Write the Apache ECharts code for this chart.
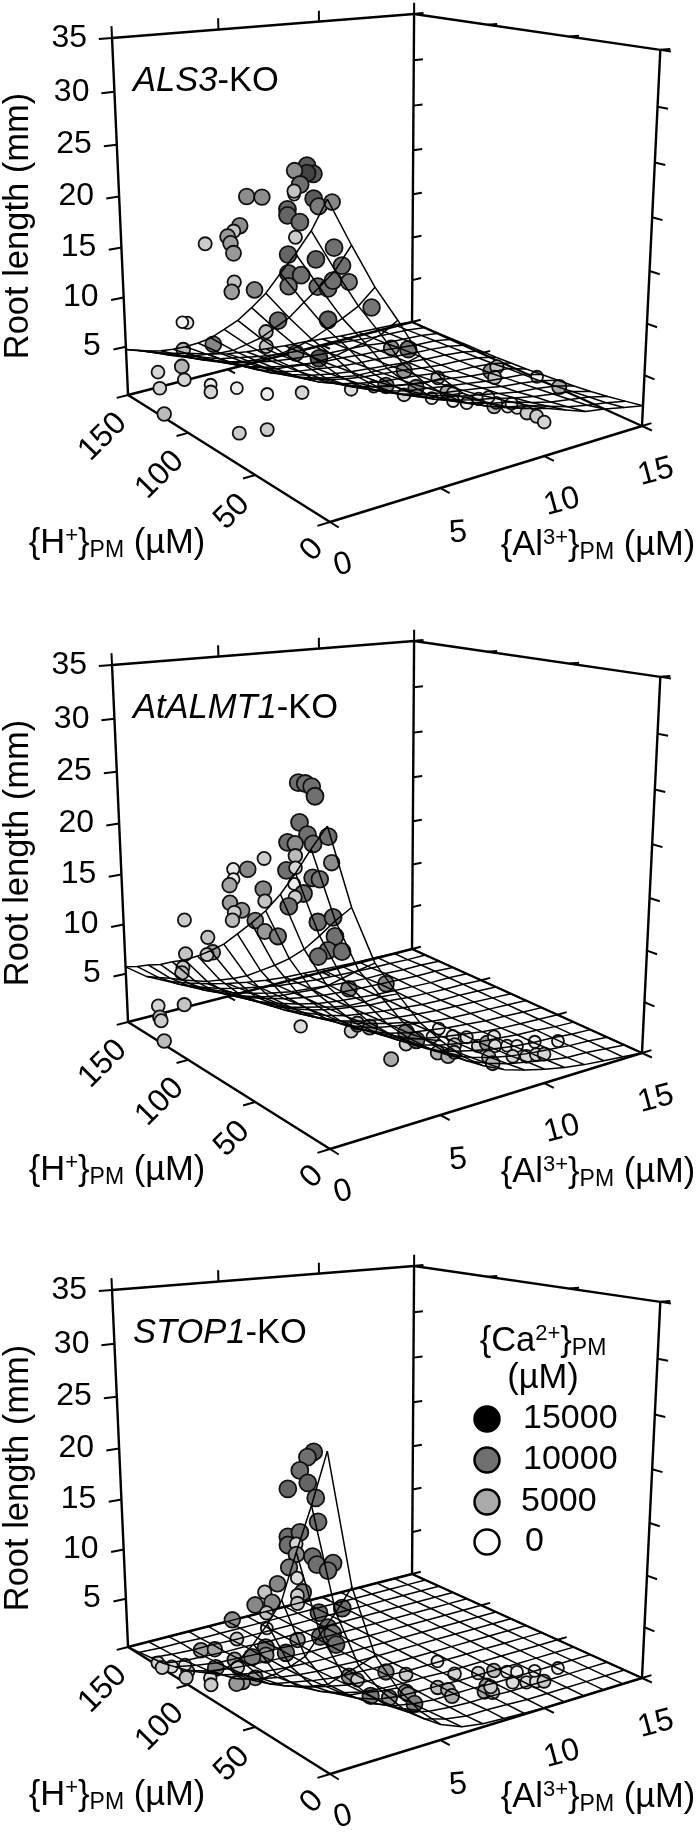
<!DOCTYPE html>
<html><head><meta charset="utf-8">
<style>html,body{margin:0;padding:0;background:#fff}#c{width:698px;height:1834px}</style>
<script src="https://cdn.jsdelivr.net/npm/echarts@6/dist/echarts.min.js"></script>
</head><body><div id="c"></div>
<script>
// ---------- axis tick values ----------
const lengthTicks=[5,10,15,20,25,30,35];
const hTicks=[0,50,100,150];
const alTicks=[0,5,10,15];
const legendCa=[15000,10000,5000,0];
const meshH=[0,10,20,30,40,50,60,70,80,90,100,110,120,130,140,150];
const meshAl=[0,1,2,3,4,5,6,7,8,9,10,11,12,13,14,15];
// ---------- measurements: [H+ uM, Al3+ uM, root length mm, Ca2+ uM] ----------
const als3Points=[
[27,1,27.5,11000],[23,1,27,11000],[27,1,26.9,12000],[35,1,26.8,7500],[31.5,1,25.8,10000],[35.5,1,24.8,500],[35.5,1,25.1,3500],[23,1,25,11000],[20,1,24.5,9000],[11.6,1,25.2,8000],
[40,1,23.4,10500],[40,1,22.9,10500],[32,1,22.7,10000],[35,1,21.3,3000],[40,1,19.6,10500],[10.6,1,21.6,10000],[22,1,20.1,10500],[5.8,1,20.4,10000],[40,1,18,10500],[31.6,1,18.3,10000],
[40,1,16.9,9500],[21,1,17.9,10000],[14.5,1,18.1,10000],[11.4,1,18.9,10000],[1.6,1,19.3,8500],[20,3.3,15.3,9500],[14.7,1,15.5,10500],[47.5,1,13.5,10000],[56,1,12,4000],[56,1,10.7,3500],
[35.8,1,11.4,8000],[20.7,1,11.9,11000],[95,1,8.4,8000],[119,1,6.3,4000],[115,1,9.2,1500],[119,1,9,500],[63.5,1,15.3,8000],[78,1,15.2,3500],[80,1,14.2,6000],[99,1,17.6,3000],
[73,1,20.5,7500],[77.5,1,19.8,3500],[82,1,19.1,6500],[80,1,18.6,6000],[78,1,17.8,6500],[67.6,1,23.3,7500],[57,1,23.7,7500],[20,4.2,11.4,6500],[141,1,2.5,2500],[120.7,1,4.5,4500],
[119,1,3.3,2500],[140,1,0.9,2500],[121,0.1,0.2,4000],[98,1,4.3,1000],[98,1,3.6,2500],[78,1,5.4,1000],[56,1,6.4,1000],[32,1,8.2,2500],[77,1,1.2,3000],[56.5,1,3.1,3000],
[60,5.2,4.4,2000],[60,6.3,4.1,500],[60,6.9,3.9,7500],[60,8,6.9,9500],[60,7.8,4.9,7000],[60,8.4,2.9,7500],[60,7.8,2.5,2500],[60,9.5,3.3,3000],[60,9.2,1.4,1000],[60,10,1.6,5000],
[60,10.3,1.3,2000],[60,10.3,0.5,1000],[40,9.4,2.3,1000],[40,10,2.4,2000],[40,10.6,4.8,7000],[40,10.9,5.1,3500],[40,10.8,4.1,3500],[40,10.8,1.2,4000],[40,10.9,1.5,1000],[40,10.5,2.3,1000],
[40,11.5,0.8,1000],[40,12,0.4,1500],[40,11.7,1,1000],[20,10.8,2.1,3000],[20,11.3,1.5,3000],[20,11.7,0.7,2500],[40,13,3,1000],[40,14.2,1.3,5000]];
const almt1Points=[
[32.5,1,28.1,10000],[28,1,28.2,10000],[24,1,28.1,10000],[22,1,27.4,10000],[32,1,24.9,10000],[27,1,24.1,10000],[23.5,1,23.5,10000],[14,1,24.5,10000],[40,1,22.9,10000],[35,1,23,7500],
[35,1,22,4000],[12,1,22.5,7500],[56,1,20.8,3000],[78,1,18.8,1500],[67.6,1,19.3,8000],[78,1,17.9,1000],[81,1,17.2,5500],[41,1,20.5,10000],[35,1,21,2500],[24,1,20.7,10000],
[19.5,1,20.8,9500],[36,1,19.6,1000],[30,1,19.1,10000],[35.5,1,18.5,3000],[39.8,1,17.5,10000],[57,1,18.1,8000],[56,1,17.1,3500],[81,1,15.6,6000],[72.5,1,15.4,7000],[78,1,14.9,3000],
[79.5,1,14.1,4000],[63,1,15,8000],[56.5,1,14.4,6500],[47.5,1,14.5,9000],[21,1,17.2,10000],[11.4,1,18.1,10000],[10.3,1,16.6,10000],[14.7,1,15.2,10000],[6,1,15.6,10000],[21,1,14.3,10000],
[116.5,1,12,3000],[98.5,1,11.4,3500],[95,1,10.2,6000],[99.5,1,9.7,3000],[116.5,1,8.7,3500],[119,1,7.2,3000],[120,1,6.6,4000],[141,1,1.8,2500],[119,1,3.5,3500],[140,1,0.7,4000],
[139,1,0.4,3000],[121,0.1,0.2,4000],[60,2.8,4.7,2000],[60,5.1,7.1,8000],[60,6.9,6.7,8000],[60,5.2,3,3000],[60,5.5,3.4,3000],[60,6.1,2.9,7000],[20,4.2,3.9,5000],[60,7.9,1.4,8000],
[40,6.4,2.6,3000],[40,6.9,2.7,9000],[40,7.7,2.6,1500],[40,8,3.2,1000],[40,8.7,2.1,1500],[40,9.4,1.6,1500],[40,8.8,1.2,3000],[20,6.4,3.3,4500],[20,6.9,2.7,4500],[20,7.2,2.9,3000],
[40,10,0.4,2500],[20,8.8,2.9,6000],[40,10.8,0.9,1500],[20,9.2,2.4,2000],[20,8.9,1.5,4000],[20,9.1,0.8,4500],[20,9.8,2.1,1000],[20,10.3,1.8,1000],[20,10.1,0.9,2500],[20,10.8,0.5,2500],
[20,11.3,0.4,2500],[20,11.7,0.2,2500],[20,11.2,1.7,1000],[20,12.4,1.1,1000],[60,5.5,3.6,3000]];
const stop1Points=[
[23,1,24.9,11000],[27,1,24.3,10000],[32,1,23,10000],[27,1,22.2,10500],[40,1,21.1,10500],[22,1,21.2,10000],[20.7,1,19.3,10000],[40.5,1,17,10000],[32.5,1,17.8,10000],[40.5,1,16.3,10000],
[35,1,16.7,2500],[35,1,15.8,7500],[40,1,14.4,9000],[24.5,1,16.2,10000],[21.7,1,15.7,10000],[11.5,1,16.4,10000],[14.7,1,15.6,10000],[34.7,1,13.8,2000],[48,1,12.5,8000],[57,1,11.2,3500],
[52,1,10.6,8000],[64,1,9.6,8000],[31,1,12.8,9000],[34.7,1,12.3,3000],[34.7,1,11.6,3500],[56,1,9.4,3500],[81,1,7.1,7500],[56,1,8,1000],[78,1,5.5,3000],[106,1,2.4,6000],
[95,1,3.3,5500],[20.7,1,11.7,10000],[6,1,13,10000],[15,1,10.8,10000],[20,1,9.7,10000],[12,1,10.5,9500],[10,1,9.7,10000],[35,1,8.4,6000],[43,1,6.7,9500],[57,1,6.2,9000],
[57,1,5.5,7000],[67,1,4.6,9000],[80,1,3.4,5500],[78,1,2.8,3000],[78,0,3.3,8500],[82.5,0,2,2000],[82,0,1.4,3000],[65,1,2.8,6000],[74.5,1,1.7,6500],[79,1,1.2,6500],
[100,0,1.3,3000],[101.5,0,0.6,3500],[102,0,1.8,1500],[113,0,0.8,2000],[124.5,0,0.3,2500],[121,0,0.1,3000],[60,5.1,1.1,7000],[60,5.5,0.5,3000],[60,6.9,0.5,7500],[40,4.7,1,9000],
[40,5.6,0.3,7000],[40,6.4,2.1,3000],[40,6.4,0.4,7000],[40,6.5,0.1,6000],[20,5.3,1.5,8500],[60,9.5,0.1,1000],[40,8.8,0.8,2500],[20,6.4,2.4,4000],[20,6.9,1.9,4500],[20,7.1,1.2,5000],
[40,10,0.2,2500],[40,10.8,0,4000],[20,9.8,2,1500],[20,10.3,1.7,1000],[20,8.8,1.2,6000],[20,8.7,0.7,5000],[20,9.1,0.4,3500],[20,9,1,3000],[20,10.1,0.8,2000],[20,10.8,0.4,2000],
[20,11.3,0.2,2000],[20,11.7,0,3000],[20,11.2,1.3,1000],[20,12.4,0.9,1000]];
// ---------- fitted surfaces: rows are H+, columns Al3+ ----------
const als3Surface=[
[26.2,22.3,18.6,15.5,12.1,9.7,7.9,6.6,5.6,5.0,4.5,3.8,3.1,2.8,2.4,2.0],
[23.3,19.8,16.5,13.7,10.7,8.6,7.0,5.8,5.0,4.4,4.0,3.4,2.8,2.4,2.1,1.7],
[21,17.9,14.9,12.4,9.7,7.8,6.3,5.3,4.5,4.0,3.6,3.0,2.5,2.2,1.9,1.4],
[18.9,16.1,13.4,11.2,8.7,7.0,5.7,4.7,4.1,3.6,3.2,2.7,2.3,2.0,1.7,1.15],
[16.7,14.2,11.9,9.9,7.7,6.2,5.0,4.2,3.6,3.2,2.8,2.4,2.0,1.8,1.5,0.95],
[14.9,12.7,10.6,8.8,6.9,5.5,4.5,3.7,3.2,2.8,2.5,2.2,1.8,1.6,1.3,0.8],
[13.2,11.2,9.4,7.8,6.1,4.9,4.0,3.3,2.8,2.5,2.2,1.9,1.6,1.4,1.2,0.65],
[11.8,10,8.4,7,5.4,4.4,3.5,3,2.5,2.2,2,1.7,1.4,1.2,1.1,0.5],
[10.4,8.8,7.4,6.1,4.8,3.8,3.1,2.6,2.2,2,1.8,1.5,1.2,1.1,0.9,0.4],
[9.3,7.9,6.6,5.5,4.3,3.4,2.8,2.3,2,1.8,1.6,1.3,1.1,1,0.8,0.3],
[8.3,7.1,5.9,4.9,3.8,3.1,2.5,2.1,1.8,1.6,1.4,1.2,1,0.9,0.7,0.25],
[7.4,6.3,5.3,4.4,3.4,2.7,2.2,1.9,1.6,1.4,1.3,1.1,0.9,0.8,0.6,0.2],
[6.6,5.6,4.7,3.9,3,2.4,2,1.7,1.4,1.3,1.1,1,0.8,0.6,0.5,0.15],
[5.9,5,4.2,3.5,2.7,2.2,1.8,1.5,1.3,1.1,1,0.9,0.6,0.5,0.4,0.1],
[5.3,4.5,3.8,3.1,2.4,2,1.6,1.3,1.1,1,0.9,0.7,0.5,0.4,0.3,0.05],
[4.7,4,3.3,2.8,2.2,1.7,1.4,1.2,1,0.9,0.7,0.5,0.4,0.3,0.2,0]];
const almt1Surface=[
[26.2,19.5,14.6,11.6,8.7,6.6,4.7,3.3,2.4,1.8,1.3,0.9,0.6,0.4,0.2,0],
[24,17.9,13.4,10.7,8,6,4.3,3,2.2,1.6,1.2,0.8,0.5,0.4,0.2,0],
[21.6,16.1,12.1,9.6,7.2,5.4,3.9,2.7,2,1.4,1,0.7,0.5,0.3,0.2,0],
[19.4,14.4,10.8,8.6,6.5,4.9,3.5,2.4,1.8,1.3,0.9,0.6,0.4,0.3,0.1,0],
[17.5,13,9.8,7.8,5.8,4.4,3.2,2.2,1.6,1.2,0.8,0.6,0.4,0.3,0.1,0],
[15.9,11.8,8.9,7.1,5.3,4,2.9,2,1.5,1.1,0.8,0.5,0.3,0.2,0.1,0],
[14.4,10.7,8,6.4,4.8,3.6,2.6,1.8,1.3,1,0.7,0.5,0.3,0.2,0.1,0],
[12.9,9.6,7.2,5.7,4.3,3.3,2.3,1.6,1.2,0.9,0.6,0.4,0.3,0.2,0.1,0],
[11.7,8.7,6.5,5.2,3.9,2.9,2.1,1.5,1.1,0.8,0.6,0.4,0.3,0.2,0.1,0],
[10.6,7.9,5.9,4.7,3.5,2.7,1.9,1.3,1,0.7,0.5,0.3,0.2,0.2,0.1,0],
[9.6,7.1,5.4,4.3,3.2,2.4,1.7,1.2,0.9,0.6,0.5,0.3,0.2,0.1,0.1,0],
[8.8,6.5,4.9,3.9,2.9,2.2,1.6,1.1,0.8,0.6,0.4,0.3,0.2,0.1,0.1,0],
[7.9,5.9,4.4,3.5,2.6,2,1.4,1,0.7,0.5,0.4,0.3,0.2,0.1,0.1,0],
[7.2,5.4,4,3.2,2.4,1.8,1.3,0.9,0.7,0.5,0.3,0.2,0.2,0.1,0.1,0],
[6.4,4.8,3.6,2.8,2.1,1.6,1.2,0.8,0.6,0.4,0.3,0.2,0.1,0.1,0,0],
[5.7,4.2,3.2,2.5,1.9,1.4,1,0.7,0.5,0.4,0.3,0.2,0.1,0.1,0,0]];
const stop1Surface=[
[26.2,15.1,9,5.7,3.2,1.4,0.6,0.3,0.2,0.1,0,0,0,0,0,0],
[21.5,12.4,7.4,4.7,2.6,1.1,0.5,0.2,0.2,0.1,0,0,0,0,0,0],
[17.2,9.9,5.9,3.8,2.1,0.9,0.4,0.2,0.1,0.1,0,0,0,0,0,0],
[12.6,7.3,4.3,2.8,1.5,0.7,0.3,0.1,0.1,0.1,0,0,0,0,0,0],
[9.9,5.7,3.4,2.2,1.2,0.5,0.2,0.1,0.1,0,0,0,0,0,0,0],
[7.5,4.3,2.6,1.6,0.9,0.4,0.2,0.1,0.1,0,0,0,0,0,0,0],
[5.4,3.1,1.9,1.2,0.7,0.3,0.1,0.1,0,0,0,0,0,0,0,0],
[3.9,2.3,1.3,0.9,0.5,0.2,0.1,0,0,0,0,0,0,0,0,0],
[2.8,1.6,1,0.6,0.3,0.1,0.1,0,0,0,0,0,0,0,0,0],
[2,1.2,0.7,0.4,0.2,0.1,0,0,0,0,0,0,0,0,0,0],
[1.4,0.8,0.5,0.3,0.2,0.1,0,0,0,0,0,0,0,0,0,0],
[1,0.6,0.3,0.2,0.1,0.1,0,0,0,0,0,0,0,0,0,0],
[0.6,0.3,0.2,0.1,0.1,0,0,0,0,0,0,0,0,0,0,0],
[0.4,0.2,0.1,0.1,0,0,0,0,0,0,0,0,0,0,0,0],
[0.2,0.1,0.1,0,0,0,0,0,0,0,0,0,0,0,0,0],
[0,0,0,0,0,0,0,0,0,0,0,0,0,0,0,0]];
// ---------- panels ----------
const FONT='"Liberation Sans",Arial,sans-serif';
const panels=[
 {top:0,name:'{i|ALS3}{n|-KO}',points:als3Points,surface:als3Surface},
 {top:627,name:'{i|AtALMT1}{n|-KO}',points:almt1Points,surface:almt1Surface},
 {top:1252,name:'{i|STOP1}{n|-KO}',points:stop1Points,surface:stop1Surface}];
// perspective of the SigmaPlot box (H, Al, length -> page)
function project(h,al,z,top){
  const u=h/150,v=al/15,A=-12.73+0.65*u+0.84*v,w=1+0.177*u+0.0969*v-0.00203*z;
  return [(330-179.3*u+374.2*v-0.766*z)/w,(522-57.1*u-54.7*v+A*z)/w+top];
}
function caColor(ca){
  const st=[[0,255],[5000,170],[10000,112],[15000,0]];
  let g=0;
  for(let i=0;i<3;i++){ if(ca<=st[i+1][0]){g=st[i][1]+(st[i+1][1]-st[i][1])*(ca-st[i][0])/(st[i+1][0]-st[i][0]);break;} }
  g=Math.round(g);return `rgb(${g},${g},${g})`;
}
const series=[],graphic=[];
function poly(pts,width){
  series.push({type:'line',data:pts,showSymbol:false,symbol:'none',silent:true,animation:false,
    lineStyle:{color:'#000',width:width,cap:'butt',join:'round'},z:2});
}
function text(x,y,t,fs,rot,align,rich){
  graphic.push({type:'text',x:x,y:y,rotation:(rot||0)*Math.PI/180,z:10,silent:true,
    style:{text:t,fontFamily:FONT,fontSize:fs,fill:'#000',align:align||'center',verticalAlign:'middle',rich:rich}});
}
const unitRich={a:{fontFamily:FONT,fontSize:34.5,fill:'#000'},s:{fontFamily:FONT,fontSize:22,padding:[0,0,14,0]},b:{fontFamily:FONT,fontSize:23,padding:[15,0,0,0]}};
panels.forEach(p=>{
  const T=p.top, P=(h,a,z)=>project(h,a,z,T);
  // box
  [[[150,0,0],[150,0,35]],[[150,15,0],[150,15,35]],[[0,15,0],[0,15,35]],
   [[150,0,35],[150,15,35]],[[150,15,35],[0,15,35]],
   [[0,0,0],[150,0,0]],[[0,0,0],[0,15,0]],[[150,0,0],[150,15,0]],[[150,15,0],[0,15,0]]]
   .forEach(e=>poly(e.map(c=>P(c[0],c[1],c[2])),2.4));
  // ticks
  const stub=(a,b)=>poly([P(a[0],a[1],a[2]),P(b[0],b[1],b[2])],2);
  lengthTicks.forEach(z=>{
    stub([150,0,z],[150,-0.6,z]);
    stub([0,15,z],[-5.5,15,z]);
    stub([150,15,z],[150,15.5,z]);
  });
  hTicks.forEach(h=>{
    stub([h,0,0],[h,-0.55,0]);
    stub([h,15,0],[h,15.5,0]);
    stub([h,15,35],[h,15.5,35]);
  });
  alTicks.forEach(a=>{
    stub([0,a,0],[-5.5,a,0]);
    if(a<15) stub([150,a,35],[150,a,36.1]);
    if(a>0&&a<15) stub([150,a,0],[144,a,0]);
  });
  stub([150,15,35],[150,15,36.2]);
  // points
  series.push({type:'scatter',animation:false,silent:true,z:3,
    data:p.points.map(d=>P(d[0],d[1],d[2]).concat(d)),
    symbolSize:v=>11.5+5.5*Math.min(v[5],10000)/10000,
    itemStyle:{color:c=>caColor(c.data[5]),borderColor:'#111',borderWidth:1.8,opacity:1}});
  // mesh
  meshH.forEach((h,i)=>{ poly(meshAl.map((a,j)=>P(h,a,p.surface[i][j])),1.5); series[series.length-1].z=4; });
  meshAl.forEach((a,j)=>{ poly(meshH.map((h,i)=>P(h,a,p.surface[i][j])),1.5); series[series.length-1].z=4; });
  // tick labels
  lengthTicks.forEach(z=>{ const q=P(150,0,z); text(q[0]-25,q[1],String(z),32,0,'right'); });
  const hPos={150:[103,437],100:[160,475],50:[232,512],0:[312,550]};
  hTicks.forEach(h=>text(hPos[h][0],hPos[h][1]+T,String(h),32,45));
  const aPos={0:[343,565,15],5:[458,533,5],10:[562,502,15],15:[656,472,15]};
  alTicks.forEach(a=>text(aPos[a][0],aPos[a][1]+T,String(a),32,aPos[a][2]));
  // axis titles
  text(18,226+T,'Root length (mm)',34.5,90);
  text(117,543+T,'{a|{H}{s|+}}{b|PM}{a| (µM)}',34.5,0,'center',unitRich);
  text(598,545+T,'{a|{Al}{s|3+}}{b|PM}{a| (µM)}',34.5,0,'center',unitRich);
  text(133,81+T,p.name,34.5,0,'left',{i:{fontFamily:FONT,fontSize:34.5,fontStyle:'italic',fill:'#000'},n:{fontFamily:FONT,fontSize:34.5,fill:'#000'}});
});
// legend
text(543,1341,'{a|{Ca}{s|2+}}{b|PM}',34.5,0,'center',unitRich);
text(543,1378,'(µM)',34.5);
legendCa.forEach((ca,i)=>{
  const y=[1419,1460,1502,1542][i];
  graphic.push({type:'circle',shape:{cx:487,cy:y,r:12.5},z:10,silent:true,style:{fill:caColor(ca),stroke:'#000',lineWidth:2.5}});
  text(i==3?525:(i==2?521:523),y,String(ca),34,0,'left');
});
const chart=echarts.init(document.getElementById('c'),null,{renderer:'canvas'});
chart.setOption({animation:false,backgroundColor:'#fff',
  grid:{left:0,right:0,top:0,bottom:0,containLabel:false},
  xAxis:{type:'value',min:0,max:698,show:false},
  yAxis:{type:'value',min:0,max:1834,inverse:true,show:false},
  series:series,graphic:graphic});
</script></body></html>
